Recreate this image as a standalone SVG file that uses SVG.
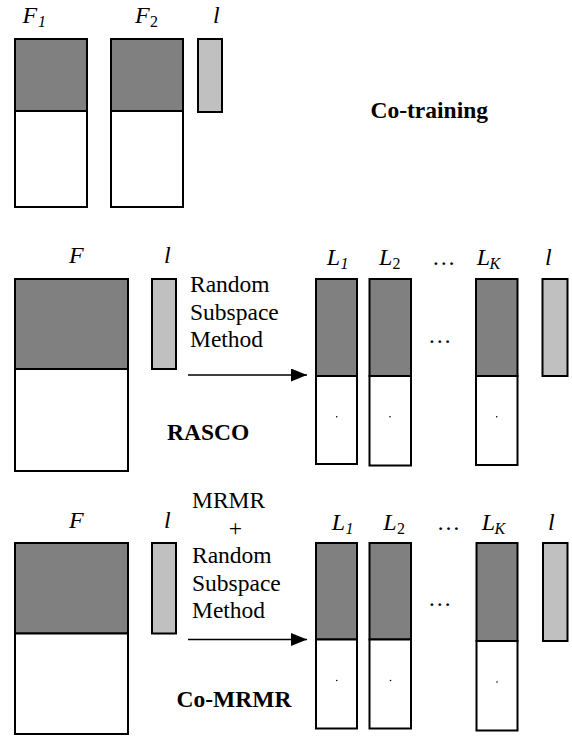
<svg xmlns="http://www.w3.org/2000/svg" width="572" height="736" viewBox="0 0 572 736">
<style>
.dk{fill:#808080;stroke:#000;stroke-width:2}
.wh{fill:#fff;stroke:#000;stroke-width:2}
.lt{fill:#c0c0c0;stroke:#000;stroke-width:2}
text{font-family:"Liberation Serif","Times New Roman",Tinos,"DejaVu Serif",serif;fill:#000}
.lab{font-style:italic;font-size:24px}
.sub{font-size:16px}
.txt{font-size:23.5px}
.bold{font-size:23.5px;font-weight:bold}
.conn{stroke:#000;stroke-width:1.6;fill:none}
</style>
<defs>
<marker id="ah2" markerWidth="16" markerHeight="13" refX="16" refY="6.5" orient="auto" markerUnits="userSpaceOnUse" viewBox="0 0 16 13">
<path d="M0,0 L16,6.5 L0,13 Z" fill="#000"/>
</marker>
</defs>

<!-- Section 1: Co-training -->
<g id="cot-F1">
<rect class="dk" x="15" y="39" width="72" height="72"/>
<rect class="wh" x="15" y="111" width="72" height="96"/>
<text class="lab" x="22.5" y="23">F</text><text class="sub" font-style="italic" x="38" y="27">1</text>
</g>
<g id="cot-F2">
<rect class="dk" x="111" y="39" width="72" height="72"/>
<rect class="wh" x="111" y="111" width="72" height="96"/>
<text class="lab" x="135" y="23">F</text><text class="sub" x="150" y="27">2</text>
</g>
<g id="cot-l">
<rect class="lt" x="198" y="39" width="24" height="73"/>
<text class="lab" x="213" y="23">l</text>
</g>
<text class="bold" x="370.5" y="118.3">Co-training</text>

<!-- Section 2: RASCO -->
<g id="ras-F">
<rect class="dk" x="15" y="279" width="113" height="90"/>
<rect class="wh" x="15" y="369" width="113" height="102"/>
<text class="lab" x="69" y="263">F</text>
</g>
<g id="ras-l">
<rect class="lt" x="152" y="279" width="24" height="90"/>
<text class="lab" x="164" y="263">l</text>
</g>
<text class="txt" x="190" y="292.3">Random</text>
<text class="txt" x="190" y="319.8">Subspace</text>
<text class="txt" x="190" y="347.3">Method</text>
<text class="bold" x="167" y="439.5">RASCO</text>
<g id="ras-L1">
<rect class="dk" x="316" y="279" width="41" height="97"/>
<rect class="wh" x="316" y="376" width="41" height="88"/>
<circle cx="336.7" cy="416.7" r="0.8" fill="#000"/>
<text class="lab" x="326.7" y="265">L</text><text class="sub" font-style="italic" x="340.5" y="269">1</text>
</g>
<g id="ras-L2">
<rect class="dk" x="369.5" y="279" width="41.5" height="97"/>
<rect class="wh" x="369.5" y="376" width="41.5" height="89.5"/>
<circle cx="390" cy="416.7" r="0.8" fill="#000"/>
<text class="lab" x="379" y="265">L</text><text class="sub" x="392.5" y="269">2</text>
</g>
<text class="txt" x="432" y="265">…</text>
<text class="txt" x="428" y="343">…</text>
<g id="ras-LK">
<rect class="dk" x="476" y="279" width="41.5" height="97"/>
<rect class="wh" x="476" y="376" width="41.5" height="89"/>
<circle cx="496.7" cy="416.7" r="0.8" fill="#000"/>
<text class="lab" x="476.7" y="265">L</text><text class="sub" font-style="italic" x="489.5" y="269">K</text>
</g>
<g id="ras-l2">
<rect class="lt" x="542.5" y="279" width="25" height="97"/>
<text class="lab" x="545" y="265">l</text>
</g>

<!-- Section 3: Co-MRMR -->
<g id="mr-F">
<rect class="dk" x="15" y="543" width="113" height="90.5"/>
<rect class="wh" x="15" y="633.5" width="113" height="100.5"/>
<text class="lab" x="69" y="528">F</text>
</g>
<g id="mr-l">
<rect class="lt" x="152" y="543" width="24" height="90.5"/>
<text class="lab" x="164" y="528">l</text>
</g>
<text class="txt" x="192" y="508.3">MRMR</text>
<text class="txt" x="235.5" y="535.8" text-anchor="middle">+</text>
<text class="txt" x="192" y="563.3">Random</text>
<text class="txt" x="192" y="590.8">Subspace</text>
<text class="txt" x="192" y="618.3">Method</text>
<text class="bold" x="176.5" y="706.7">Co-MRMR</text>
<g id="mr-L1">
<rect class="dk" x="316" y="543" width="41" height="96.5"/>
<rect class="wh" x="316" y="639.5" width="41" height="89"/>
<circle cx="336.7" cy="680.5" r="0.8" fill="#000"/>
<text class="lab" x="331.7" y="530">L</text><text class="sub" font-style="italic" x="345.5" y="534">1</text>
</g>
<g id="mr-L2">
<rect class="dk" x="369.5" y="543" width="41.5" height="96.5"/>
<rect class="wh" x="369.5" y="639.5" width="41.5" height="89"/>
<circle cx="390.5" cy="680.5" r="0.8" fill="#000"/>
<text class="lab" x="383.3" y="530">L</text><text class="sub" x="397" y="534">2</text>
</g>
<text class="txt" x="436.7" y="530">…</text>
<text class="txt" x="428" y="606">…</text>
<g id="mr-LK">
<rect class="dk" x="476.5" y="543" width="41" height="98"/>
<rect class="wh" x="476.5" y="641" width="41" height="89.5"/>
<circle cx="497" cy="682" r="0.8" fill="#000"/>
<text class="lab" x="481.7" y="530">L</text><text class="sub" font-style="italic" x="494.5" y="534">K</text>
</g>
<g id="mr-l2">
<rect class="lt" x="543" y="543" width="24.5" height="98"/>
<text class="lab" x="548" y="530">l</text>
</g>

<g id="connectors">
<line class="conn" x1="188" y1="375" x2="307" y2="375" marker-end="url(#ah2)"/>
<line class="conn" x1="188" y1="639.5" x2="307" y2="639.5" marker-end="url(#ah2)"/>
</g>
</svg>
